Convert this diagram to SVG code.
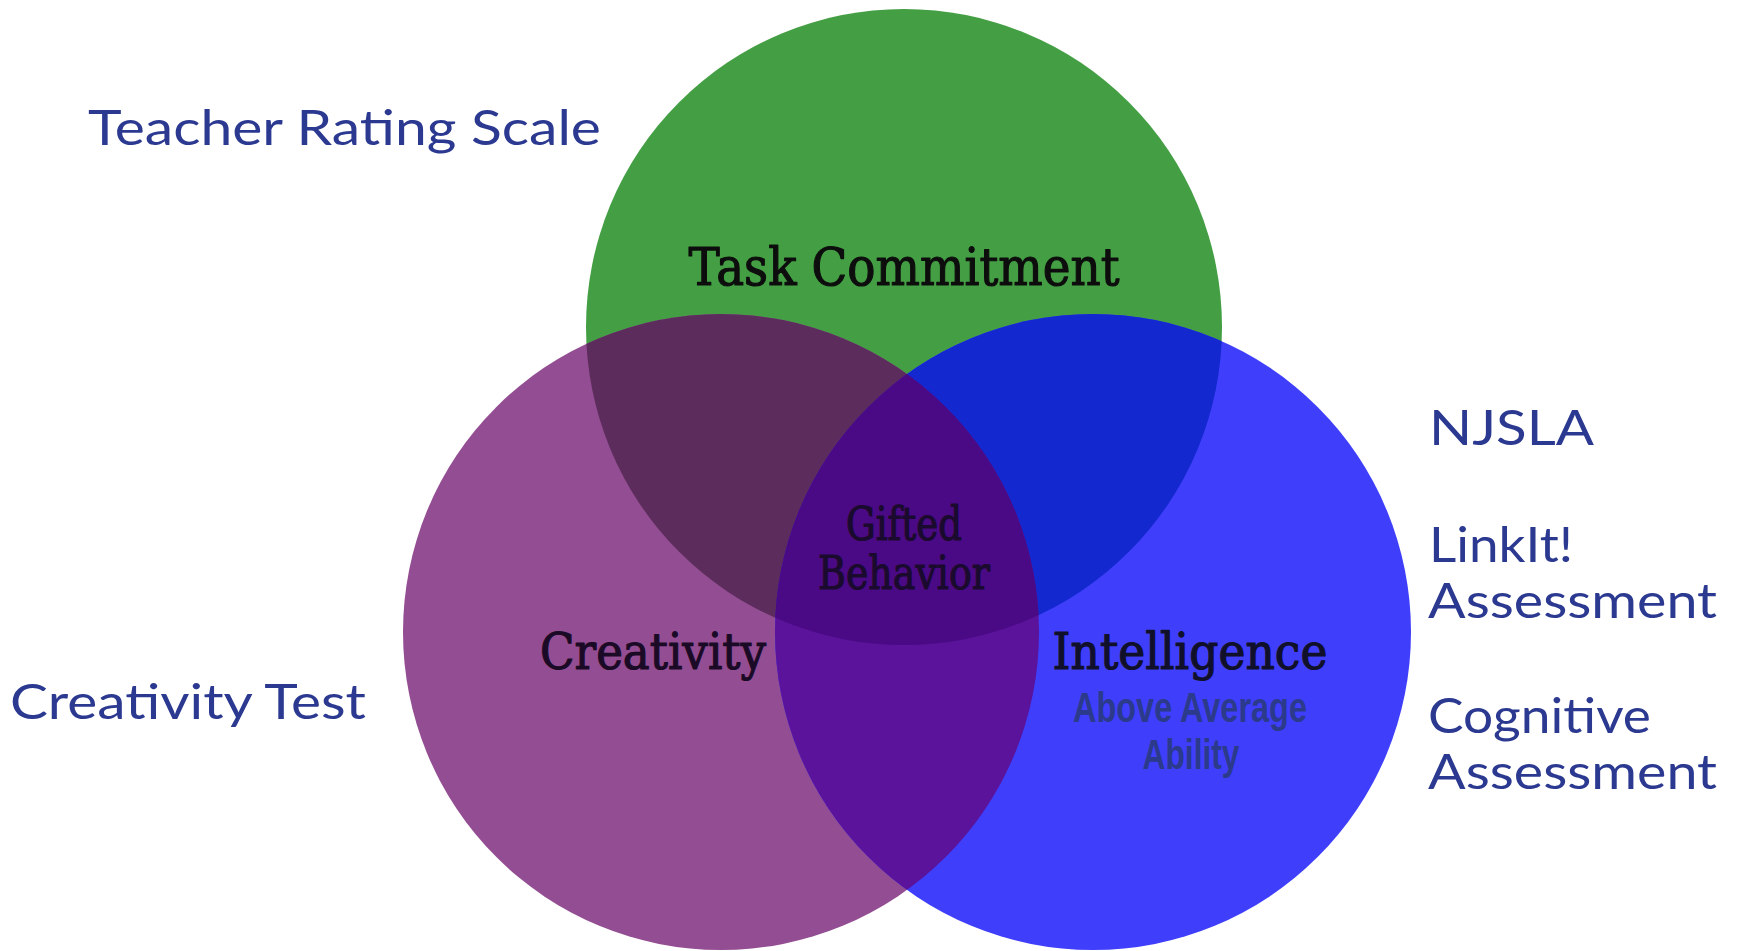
<svg xmlns="http://www.w3.org/2000/svg" width="1740" height="951" viewBox="0 0 1740 951">
<style>
.slab{font-family:"DejaVu Serif","Liberation Serif",serif;text-anchor:middle;stroke-width:1.2;stroke-linejoin:round}
.side{font-family:Lato,"Open Sans","Liberation Sans",sans-serif;fill:#2B3990;font-size:49px}
.sub{font-family:"Liberation Sans",Arial,sans-serif;font-weight:bold;fill:#2B3A8A;text-anchor:middle;font-size:42px}
</style>
<defs>
<circle id="cG" cx="904" cy="327" r="318"/>
<circle id="cP" cx="721" cy="632" r="318"/>
<circle id="cB" cx="1093" cy="632" r="318"/>
<clipPath id="clipG"><use href="#cG"/></clipPath>
<clipPath id="clipP"><use href="#cP"/></clipPath>
</defs>
<rect width="1740" height="951" fill="#ffffff"/>
<g id="venn">
<g id="task-commitment"><use href="#cG" fill="#449F44"/></g>
<g id="creativity"><use href="#cP" fill="#934D92"/></g>
<g id="intelligence"><use href="#cB" fill="#3F3FFB"/></g>
<g id="overlap-gp" clip-path="url(#clipG)"><use href="#cP" fill="#5C2D5C"/></g>
<g id="overlap-gb" clip-path="url(#clipG)"><use href="#cB" fill="#1328CF"/></g>
<g id="overlap-pb" clip-path="url(#clipP)"><use href="#cB" fill="#5A139A"/></g>
<g id="gifted-behavior" clip-path="url(#clipG)"><g clip-path="url(#clipP)"><use href="#cB" fill="#4A0A85"/></g></g>
</g>
<g id="labels">
<text class="slab" x="904" y="285" font-size="52" fill="#0d0d0d" stroke="#0d0d0d" textLength="431" lengthAdjust="spacingAndGlyphs">Task Commitment</text>
<text class="slab" x="904" y="540" font-size="46" fill="#1a0a2e" stroke="#1a0a2e" textLength="116" lengthAdjust="spacingAndGlyphs">Gifted</text>
<text class="slab" x="904" y="589" font-size="46" fill="#1a0a2e" stroke="#1a0a2e" textLength="172" lengthAdjust="spacingAndGlyphs">Behavior</text>
<text class="slab" x="653" y="669" font-size="50" fill="#1a0a26" stroke="#1a0a26" textLength="226" lengthAdjust="spacingAndGlyphs">Creativity</text>
<text class="slab" x="1190" y="669" font-size="50" fill="#10102a" stroke="#10102a" textLength="275" lengthAdjust="spacingAndGlyphs">Intelligence</text>
<text class="sub" x="1190" y="722" textLength="234" lengthAdjust="spacingAndGlyphs">Above Average</text>
<text class="sub" x="1191" y="769" textLength="97" lengthAdjust="spacingAndGlyphs">Ability</text>
</g>
<g id="measures">
<text class="side" x="88" y="145" textLength="513" lengthAdjust="spacingAndGlyphs">Teacher Rating Scale</text>
<text class="side" x="10" y="719" textLength="356" lengthAdjust="spacingAndGlyphs">Creativity Test</text>
<text class="side" x="1429" y="445" textLength="165" lengthAdjust="spacingAndGlyphs">NJSLA</text>
<text class="side" x="1429" y="562" textLength="144" lengthAdjust="spacingAndGlyphs">LinkIt!</text>
<text class="side" x="1428" y="618" textLength="289" lengthAdjust="spacingAndGlyphs">Assessment</text>
<text class="side" x="1428" y="733" textLength="223" lengthAdjust="spacingAndGlyphs">Cognitive</text>
<text class="side" x="1428" y="789" textLength="289" lengthAdjust="spacingAndGlyphs">Assessment</text>
</g>
</svg>
